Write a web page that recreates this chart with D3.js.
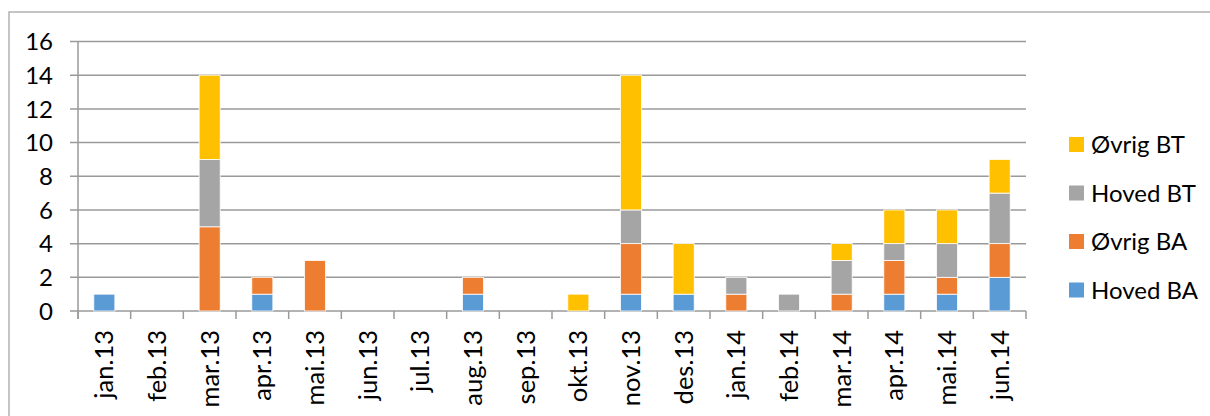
<!DOCTYPE html>
<html>
<head>
<meta charset="utf-8">
<script src="https://cdn.jsdelivr.net/npm/d3@7"></script>
<style>
  html, body { margin: 0; padding: 0; background: #fff; }
  svg { display: block; font-family: Lato, "Open Sans", sans-serif; }
</style>
</head>
<body>
<svg id="chart" width="1210" height="416"></svg>
<script>
const categories = ["jan.13","feb.13","mar.13","apr.13","mai.13","jun.13","jul.13","aug.13","sep.13","okt.13","nov.13","des.13","jan.14","feb.14","mar.14","apr.14","mai.14","jun.14"];
const hovedBA = [1,0,0,1,0,0,0,1,0,0,1,1,0,0,0,1,1,2];
const ovrigBA = [0,0,5,1,3,0,0,1,0,0,3,0,1,0,1,2,1,2];
const hovedBT = [0,0,4,0,0,0,0,0,0,0,2,0,1,1,2,1,2,3];
const ovrigBT = [0,0,5,0,0,0,0,0,0,1,8,3,0,0,1,2,2,2];
const seriesNames = ["Hoved BA","Øvrig BA","Hoved BT","Øvrig BT"];
const seriesColors = ["#5B9BD5","#ED7D31","#A5A5A5","#FFC000"];
const yTicks = [0,2,4,6,8,10,12,14,16];

(function () {
const svg = d3.select("#chart");
const pLeft = 78, pRight = 1026, pTop = 41.5, pBottom = 311;

// outer border
svg.append("rect").attr("x", 9).attr("y", 12).attr("width", 1260).attr("height", 460)
  .attr("fill", "none").attr("stroke", "#a6a6a6").attr("stroke-width", 1.3);

const x = d3.scaleBand().domain(categories).range([pLeft, pRight]).paddingInner(0.6).paddingOuter(0.3);
const xb = d3.scaleBand().domain(categories).range([pLeft, pRight]);
const y = d3.scaleLinear().domain([0, 16]).range([pBottom, pTop]);

const data = categories.map((c, i) => ({cat: c, "Hoved BA": hovedBA[i], "Øvrig BA": ovrigBA[i], "Hoved BT": hovedBT[i], "Øvrig BT": ovrigBT[i]}));
const stack = d3.stack().keys(seriesNames)(data);

// gridlines
svg.append("g").selectAll("line").data(yTicks).join("line")
  .attr("x1", pLeft - 8).attr("x2", pRight)
  .attr("y1", d => y(d)).attr("y2", d => y(d))
  .attr("stroke", "#9a9a9a").attr("stroke-width", 1.5);

// y axis line
svg.append("line").attr("x1", pLeft).attr("x2", pLeft).attr("y1", y(16)).attr("y2", pBottom + 8)
  .attr("stroke", "#9a9a9a").attr("stroke-width", 1.5);

// x ticks
svg.append("g").selectAll("line").data(d3.range(categories.length + 1)).join("line")
  .attr("x1", i => pLeft + i * xb.bandwidth()).attr("x2", i => pLeft + i * xb.bandwidth())
  .attr("y1", pBottom).attr("y2", pBottom + 8)
  .attr("stroke", "#9a9a9a").attr("stroke-width", 1.5);

// y labels
svg.append("g").selectAll("text").data(yTicks).join("text")
  .attr("x", 53).attr("y", d => y(d)).attr("dy", "0.36em")
  .attr("text-anchor", "end").attr("font-size", 24).attr("fill", "#000")
  .text(d => d);

// bars
svg.append("g").selectAll("g").data(stack).join("g")
  .attr("fill", (d, i) => seriesColors[i])
  .selectAll("rect").data(d => d.filter(s => s[1] - s[0] > 0)).join("rect")
  .attr("x", d => x(d.data.cat)).attr("width", x.bandwidth())
  .attr("y", d => y(d[1])).attr("height", d => y(d[0]) - y(d[1]))
  .attr("stroke", "#fff").attr("stroke-width", 0.8);

// x labels
svg.append("g").selectAll("text").data(categories).join("text")
  .attr("transform", d => `translate(${xb(d) + xb.bandwidth() / 2},330) rotate(-90)`)
  .attr("text-anchor", "end").attr("dy", "0.35em")
  .attr("font-size", 25.5).attr("fill", "#000")
  .text(d => d);

// legend
const legendItems = seriesNames.map((n, i) => ({name: n, color: seriesColors[i]})).reverse();
const lg = svg.append("g").selectAll("g").data(legendItems).join("g")
  .attr("transform", (d, i) => `translate(1069,${144.5 + i * 48.5})`);
lg.append("rect").attr("x", 0).attr("y", -7.5).attr("width", 15).attr("height", 15).attr("fill", d => d.color);
lg.append("text").attr("x", 22).attr("y", 0).attr("dy", "0.36em").attr("font-size", 24).attr("fill", "#000").text(d => d.name);
})();
</script>
</body>
</html>
